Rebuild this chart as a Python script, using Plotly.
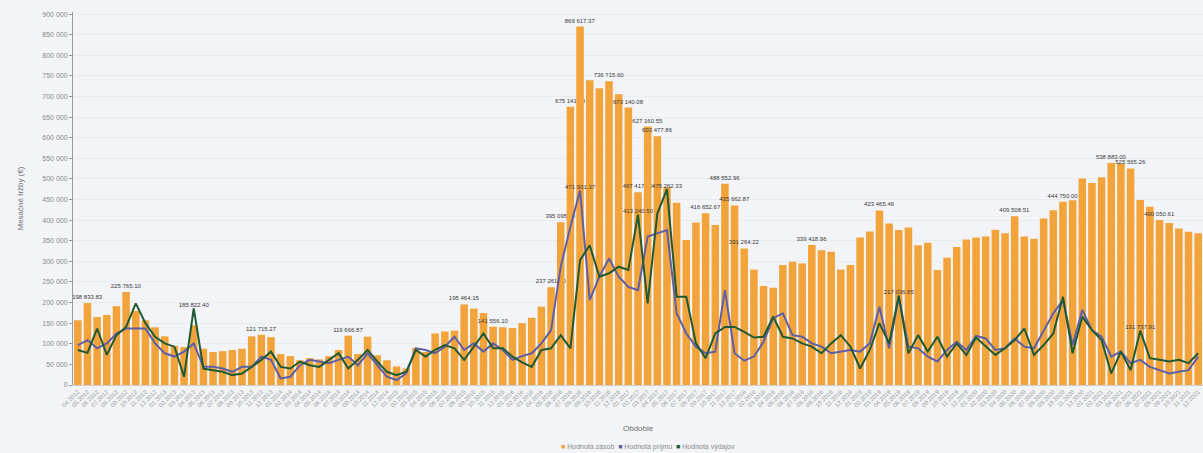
import plotly.graph_objects as go

# ---- data ----
start_year, start_month = 2012, 4
n_months = 117
obdobie = [f"{(start_month - 1 + k) % 12 + 1:02d}.{start_year + (start_month - 1 + k) // 12}" for k in range(n_months)]

hodnota_zasob = [
    157000, 198833.83, 165000, 170000, 191271.71, 225765.10, 180000, 157000, 140000, 118000,
    95000, 92000, 145000, 88000, 80000, 82000, 85000, 88000, 118000, 121715.27,
    116000, 75000, 70000, 60000, 65000, 62000, 70000, 85000, 119666.87, 75000,
    117183.87, 72000, 60000, 45000, 40000, 90000, 80000, 125000, 130000, 132000,
    195464.15, 185192.00, 174714.70, 141556.10, 140000, 138000, 150000, 163100, 190000, 237261.00,
    395095.00, 675141.00, 869617.37, 739381.20, 720000, 736715.60, 705304.64, 673140.08, 467417.00, 627160.55,
    603477.86, 480000, 442000, 352000, 394000, 416652.67, 388000, 488552.96, 435662.87, 331264.22,
    280000, 240000, 236000, 291000, 299000, 295000, 339418.96, 327000, 323000, 280000,
    291000, 358000, 372400, 423465.46, 392000, 376000, 382000, 339000, 345000, 279000,
    309000, 335000, 353000, 358000, 360000, 376589.06, 368000, 409508.51, 360000, 355000,
    404000, 424000, 444750, 448000, 501000, 490000, 504000, 538883.00, 537219.19, 525565.26,
    448718.46, 432565.24, 400050.61, 393261.35, 380000, 372000, 368000,
]

hodnota_prijmu = [
    97000, 109000, 89000, 101000, 125000, 137000, 137000, 137000, 101000, 77000,
    69000, 81000, 101000, 44000, 44000, 40000, 32000, 44000, 44000, 69000,
    61000, 16000, 20000, 48000, 61000, 57000, 53000, 61000, 69000, 48000,
    77000, 48000, 20000, 12000, 28000, 89000, 85000, 77000, 93000, 117000,
    85000, 101000, 81000, 101000, 85000, 61000, 70000, 77000, 101000, 133000,
    287000, 384000, 471931.37, 206000, 263000, 307000, 263000, 238000, 230000, 360000,
    368000, 376000, 174000, 125000, 93000, 77000, 81000, 230000, 77000, 59000,
    69000, 105000, 162000, 174000, 121000, 117000, 101000, 93000, 77000, 81000,
    85000, 81000, 101000, 190000, 89000, 214000, 93000, 89000, 69000, 57000,
    85000, 105000, 85000, 119000, 113000, 85000, 89000, 113000, 93000, 89000,
    133000, 174000, 206000, 97000, 182000, 133000, 117000, 69000, 81000, 53000,
    61000, 44000, 36000, 28000, 32000, 36000, 69000,
]

hodnota_vydajov = [
    85000, 78000, 137000, 73000, 121000, 141000, 198000, 150000, 117000, 101000,
    93000, 20000, 185822.40, 40000, 36000, 32000, 24000, 28000, 44000, 61000,
    81000, 44000, 40000, 57000, 48000, 44000, 61000, 77000, 40000, 61000,
    85000, 57000, 32000, 24000, 32000, 85000, 69000, 85000, 97000, 89000,
    61000, 93000, 125000, 89000, 89000, 69000, 55000, 44000, 85000, 89000,
    121000, 89000, 303000, 339000, 263000, 271000, 287000, 279000, 413240.50, 198000,
    416000, 475262.33, 214000, 214000, 101000, 65000, 125000, 141000, 141000, 129000,
    115000, 117000, 166000, 117000, 113000, 101000, 93000, 77000, 101000, 121000,
    93000, 40000, 85000, 150000, 101000, 217036.65, 77000, 121000, 81000, 117000,
    69000, 101000, 73000, 115000, 93000, 73000, 89000, 109000, 137000, 73000,
    97000, 125000, 214000, 77000, 166000, 133000, 109000, 28000, 81000, 36000,
    131737.91, 65000, 61000, 57000, 61000, 53000, 77000,
]

# indices whose data labels are visible in the reference
labels_zasob = [1, 5, 19, 28, 40, 43, 49, 50, 51, 52, 55, 57, 58, 59, 60, 65, 67, 68, 69,
                76, 83, 97, 102, 107, 109, 112]
labels_prijmu = [52]
labels_vydajov = [12, 58, 61, 85, 110]

series_names = ["Hodnota zásob", "Hodnota príjmu", "Hodnota výdajov"]
colors = ["#F2A33A", "#5E5FA6", "#1F5A35"]


def fmt(v):
    return f"{v:,.2f}".replace(",", " ")


def label_text(values, idx):
    return [fmt(v) if i in idx else "" for i, v in enumerate(values)]


lab_font = dict(size=6, color="#3a3a3a", family="Liberation Sans")

fig = go.Figure()
fig.add_trace(go.Bar(
    x=obdobie, y=hodnota_zasob, name=series_names[0],
    marker=dict(color=colors[0], line=dict(width=0)),
    text=label_text(hodnota_zasob, labels_zasob), textposition="outside",
    textangle=0, constraintext="none", cliponaxis=False,
    textfont=lab_font, hoverinfo="skip",
))
fig.add_trace(go.Scatter(
    x=obdobie, y=hodnota_prijmu, name=series_names[1], mode="lines+text",
    line=dict(color=colors[1], width=2),
    text=label_text(hodnota_prijmu, labels_prijmu), textposition="top center",
    textfont=lab_font, cliponaxis=False,
))
fig.add_trace(go.Scatter(
    x=obdobie, y=hodnota_vydajov, name=series_names[2], mode="lines+text",
    line=dict(color=colors[2], width=2),
    text=label_text(hodnota_vydajov, labels_vydajov), textposition="top center",
    textfont=lab_font, cliponaxis=False,
))

W, H = 1203, 453
ml, mr, mt, mb = 73, 0, 12, 68
ph = H - mt - mb
pw = W - ml - mr

legend_text = "  ".join(
    f"<span style='color:{c}'>■</span> {n}" for n, c in zip(series_names, colors)
)

fig.update_layout(
    width=W, height=H,
    margin=dict(l=ml, r=mr, t=mt, b=mb),
    paper_bgcolor="#F2F4F8", plot_bgcolor="#F2F4F8",
    barmode="overlay", bargap=0.22,
    separators=". ",
    font=dict(family="Liberation Sans", color="#8a8a8a", size=7),
    showlegend=False,
    xaxis=dict(type="category", tickmode="linear", dtick=1, tickangle=-45,
               tickfont=dict(size=6, color="#9a9a9a"), showgrid=False,
               showline=True, linecolor="#cfcfcf", ticks="", automargin=False,
               range=[-0.5, n_months - 0.5]),
    yaxis=dict(range=[0, 905000], dtick=50000, tickformat=",d",
               tickfont=dict(size=7, color="#8a8a8a"), showgrid=True,
               gridcolor="rgba(215,220,228,0.35)", zeroline=False,
               showline=True, linecolor="#9a9a9a", ticks="outside", ticklen=3,
               tickcolor="#9a9a9a", automargin=False),
    annotations=[
        dict(text="Obdobie", x=0.5, xref="paper", y=-(428 - 385) / ph, yref="paper",
             showarrow=False, font=dict(size=8, color="#707070"), yanchor="middle"),
        dict(text="Mesačné tržby (€)", x=(20 - ml) / pw, xref="paper", y=0.5, yref="paper",
             textangle=-90, showarrow=False, font=dict(size=8, color="#707070"),
             xanchor="center", yanchor="middle"),
        dict(text=legend_text, x=(648 - ml) / pw, xref="paper", y=-(447 - 385) / ph,
             yref="paper", showarrow=False, font=dict(size=7, color="#8a8a8a"),
             xanchor="center", yanchor="middle"),
    ],
)

fig.write_html("out.html")
